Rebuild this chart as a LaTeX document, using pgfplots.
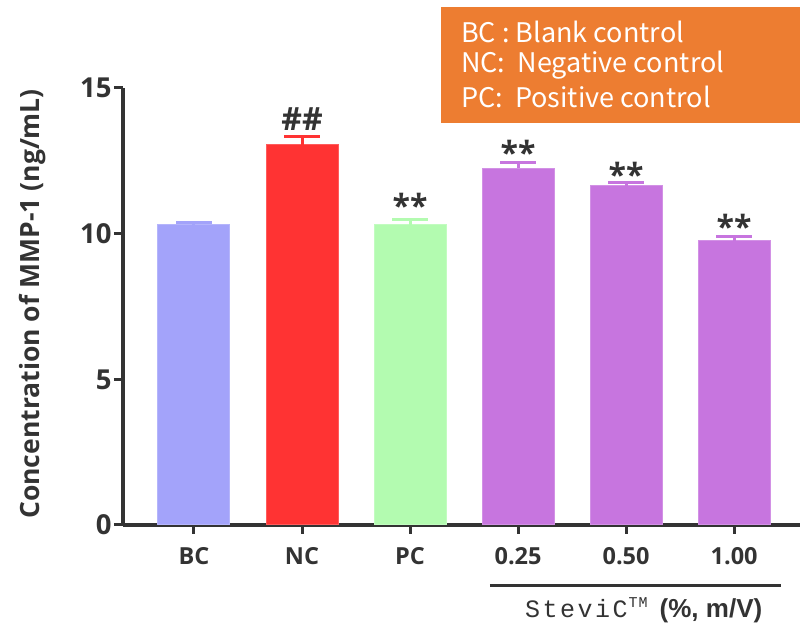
\documentclass[border=0pt]{standalone}
\usepackage{fontspec}
\setmainfont{Open Sans}
\newfontfamily\legfont{Noto Sans CJK SC}
\newfontfamily\monofont{Liberation Mono}
\newfontfamily\arialfont{Liberation Sans}
\usepackage{pgfplots}
\pgfplotsset{compat=1.18}
\definecolor{axcol}{HTML}{333333}
\definecolor{bccol}{HTML}{A3A3FA}
\definecolor{nccol}{HTML}{FF3333}
\definecolor{pccol}{HTML}{B3FBB0}
\definecolor{stcol}{HTML}{C775DF}
\definecolor{legcol}{HTML}{ED7D31}
\begin{document}
\begin{tikzpicture}[x=1pt,y=1pt]
\useasboundingbox (0,0) rectangle (803,623);
\begin{axis}[at={(123pt,98pt)}, anchor=south west, scale only axis,
  width=677pt, height=437pt,
  xmin=-0.657, xmax=5.61, ymin=0, ymax=15,
  axis lines=left, axis line style={line width=3.5pt, draw=axcol, -},
  clip=false,
  ytick={0,5,10,15}, xtick={0,1,2,3,4,5},
  xticklabels={BC,NC,PC,0.25,0.50,1.00},
  tick style={line width=3pt, draw=axcol}, major tick length=9pt,
  tick align=outside, tick pos=left,
  /pgf/number format/assume math mode=true,
  ticklabel style={font=\bfseries\fontsize{23.5}{27}\selectfont, text=axcol},
  yticklabel style={font=\bfseries\fontsize{27.5}{31}\selectfont, xshift=1pt},
  xticklabel style={yshift=-10pt},
  ylabel={Concentration of MMP-1 (ng/mL)},
  every axis y label/.style={at={(axis description cs:-0.134,0.506)}, rotate=90, anchor=center,
    font=\bfseries\fontsize{26.5}{30}\selectfont, text=axcol},
  ybar, bar width=72pt, bar shift=0pt,
  error bars/y dir=plus, error bars/y explicit,
]
\addplot[fill=bccol, draw=bccol!80!white, line width=1pt,
  error bars/error bar style={line width=3pt, draw=bccol},
  error bars/error mark options={line width=3pt, draw=bccol, mark size=18pt, rotate=90}]
  coordinates {(0,10.30) +- (0,0.10)};
\addplot[fill=nccol, draw=nccol!80!white, line width=1pt,
  error bars/error bar style={line width=3pt, draw=nccol},
  error bars/error mark options={line width=3pt, draw=nccol, mark size=18pt, rotate=90}]
  coordinates {(1,13.05) +- (0,0.30)};
\addplot[fill=pccol, draw=pccol!80!white, line width=1pt,
  error bars/error bar style={line width=3pt, draw=pccol},
  error bars/error mark options={line width=3pt, draw=pccol, mark size=18pt, rotate=90}]
  coordinates {(2,10.30) +- (0,0.20)};
\addplot[fill=stcol, draw=stcol!80!white, line width=1pt,
  error bars/error bar style={line width=3pt, draw=stcol},
  error bars/error mark options={line width=3pt, draw=stcol, mark size=18pt, rotate=90}]
  coordinates {(3,12.25) +- (0,0.18) (4,11.64) +- (0,0.13) (5,9.75) +- (0,0.14)};
\begin{scope}[every node/.style={font=\bfseries\fontsize{32}{36}\selectfont, text=axcol, inner sep=0pt}]
\node[anchor=center] at (axis cs:1,13.94) {\#\#};
\node[anchor=base] at (axis cs:2,10.55) {**};
\node[anchor=base] at (axis cs:3,12.36) {**};
\node[anchor=base] at (axis cs:4,11.62) {**};
\node[anchor=base] at (axis cs:5,9.82) {**};
\end{scope}
\draw[line width=3pt, draw=axcol] (axis cs:2.74,-2.06) -- (axis cs:5.43,-2.06);
\end{axis}
\fill[legcol] (441,500) rectangle (800,616);
\begin{scope}[every node/.style={font=\legfont\fontsize{27}{32}\selectfont, text=white, anchor=west, inner sep=0pt}]
\node at (461,591) {BC : Blank control};
\node at (461,558) {NC:\ \ Negative control};
\node at (461,526) {PC:\ \ Positive control};
\end{scope}
\node[anchor=base west, text=axcol, inner sep=0pt] at (525,5)
  {{\monofont\fontsize{25}{29}\selectfont S\kern2.5pt t\kern2.5pt e\kern2.5pt v\kern2.5pt i\kern2.5pt C\kern1pt\raisebox{0.42em}{\fontsize{15}{17}\selectfont T\kern1pt M}}\hspace{12pt}{\arialfont\bfseries\fontsize{26}{30}\selectfont(\%, m/V)}};
\end{tikzpicture}
\end{document}
